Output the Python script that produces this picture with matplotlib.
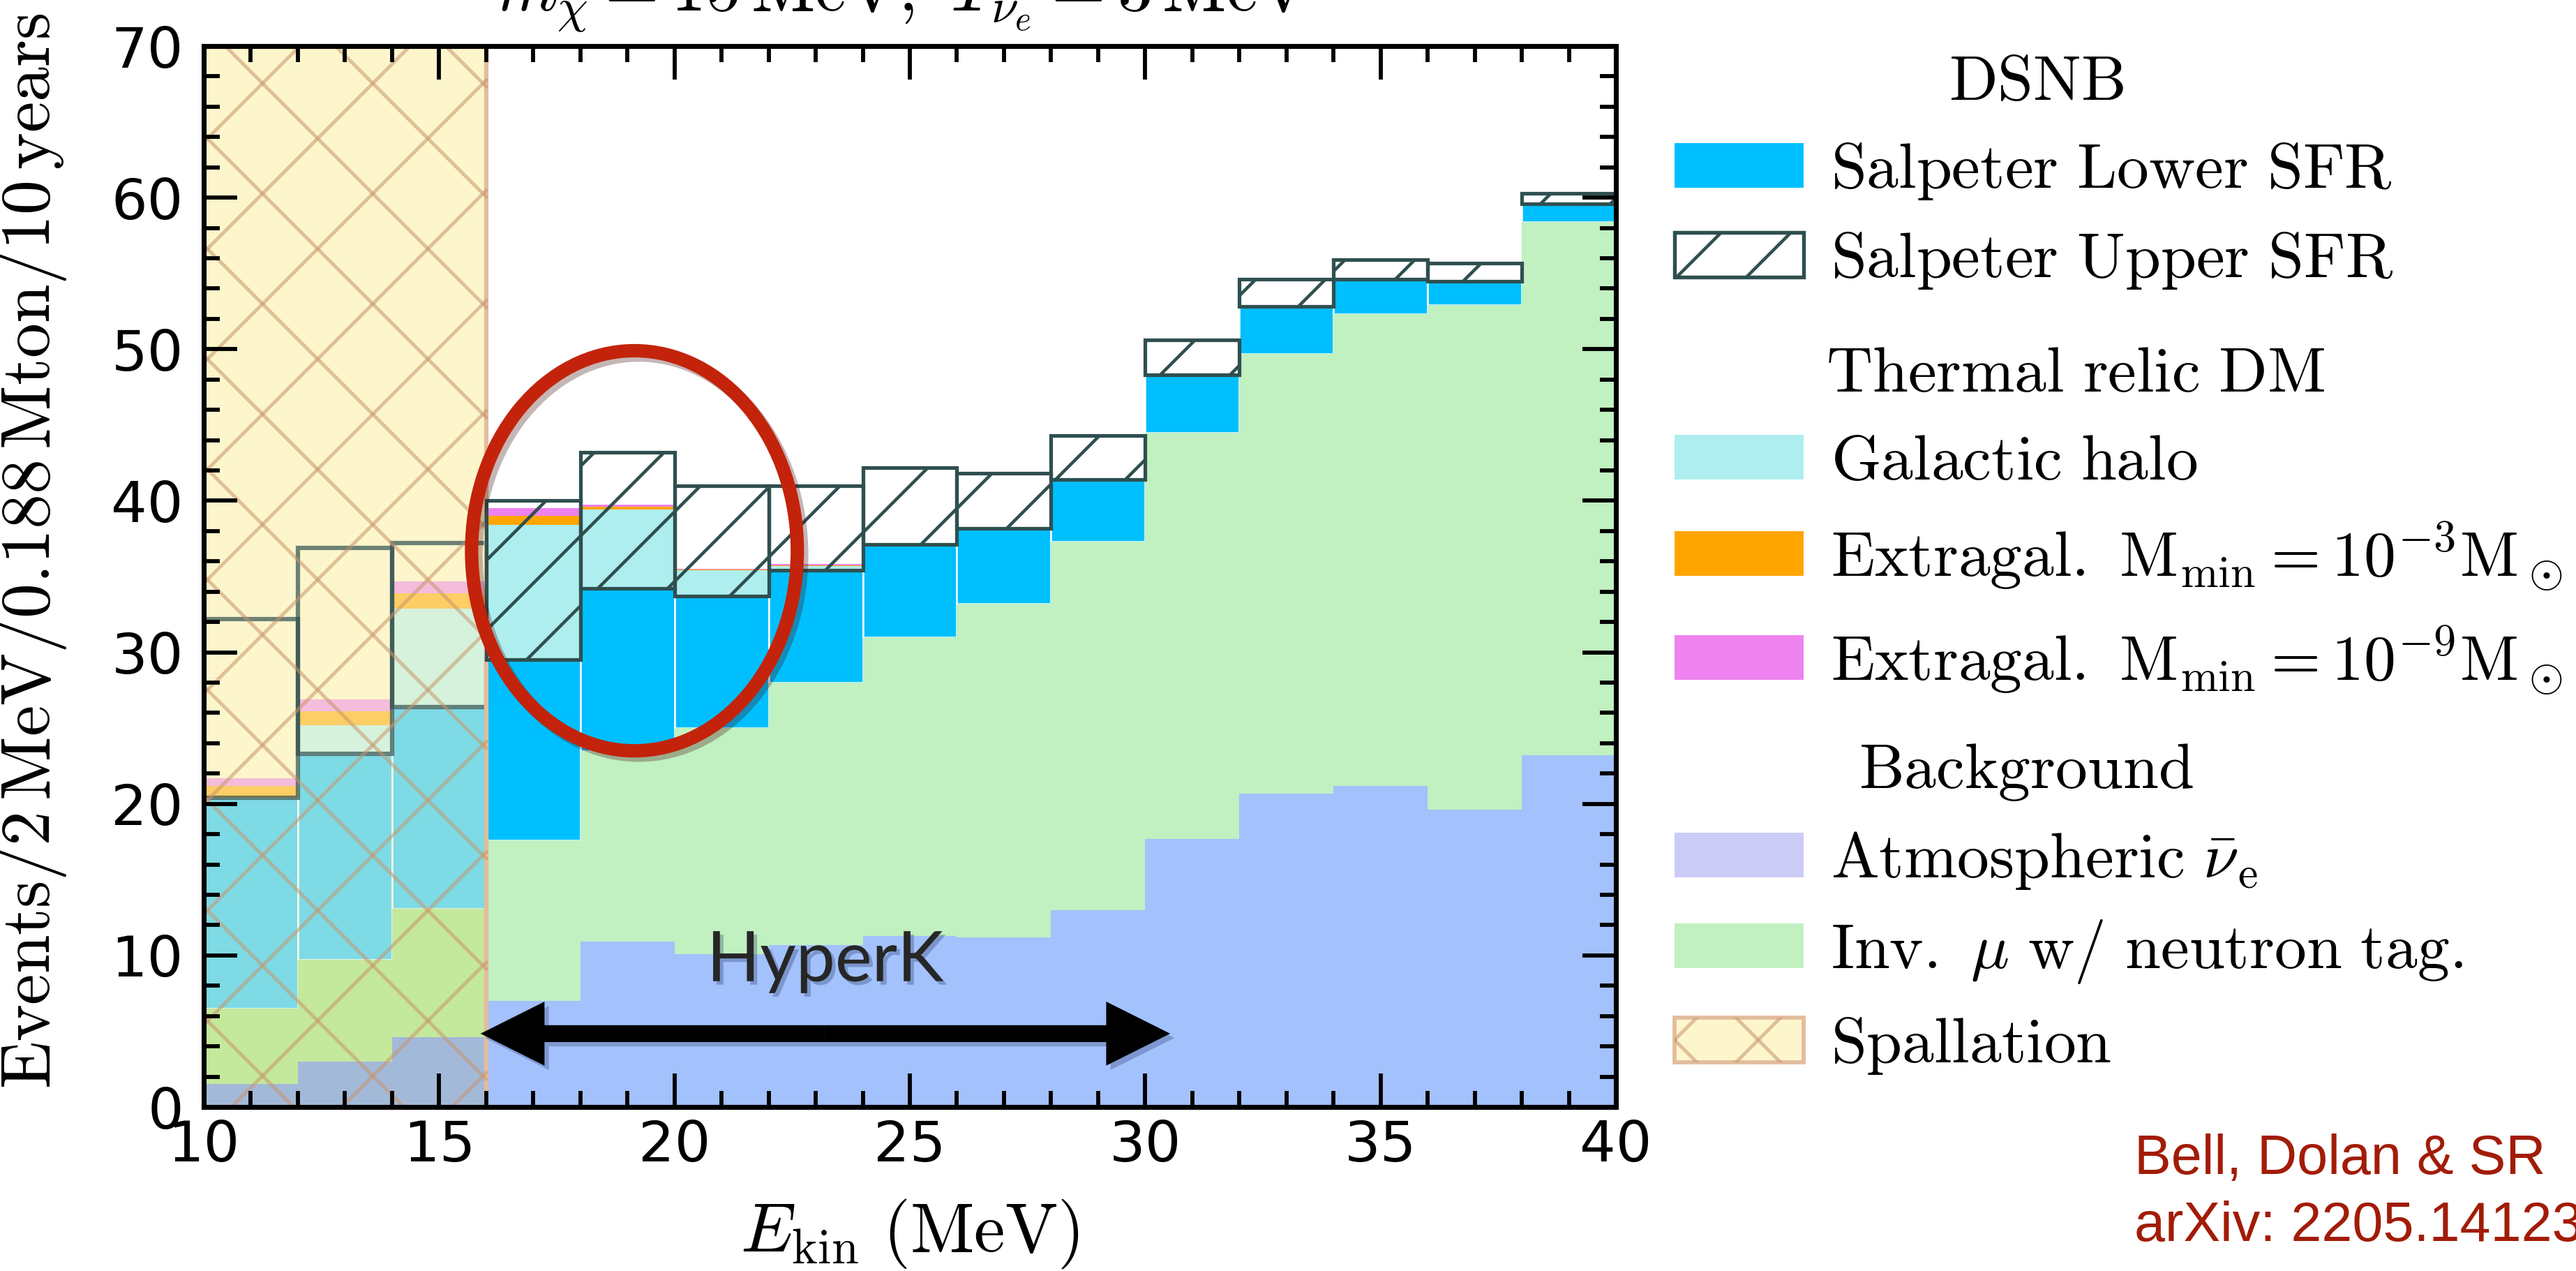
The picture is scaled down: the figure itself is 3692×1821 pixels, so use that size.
import numpy as np
import matplotlib
matplotlib.use("Agg")
import matplotlib.pyplot as plt
import matplotlib.patches as mpatches
import matplotlib.patheffects as pe
from matplotlib.ticker import MultipleLocator

W_PX, H_PX, DPI = 3692, 1821, 300

# 2 MeV bins in kinetic energy
bin_edges = np.arange(10, 42, 2)

# events / 2 MeV / 0.188 Mton / 10 years, per component and bin
atmos = np.array([1.5, 3.0, 4.6, 7.0, 10.9, 10.1, 10.7, 11.3, 11.2, 13.0, 17.7, 20.7, 21.2, 19.6, 23.2])
inv_mu = np.array([5.0, 6.7, 8.5, 10.6, 12.6, 14.9, 17.3, 19.7, 22.0, 24.3, 26.8, 29.0, 31.1, 33.3, 35.2])
salp_lower = np.array([13.9, 13.6, 13.3, 11.9, 10.7, 8.7, 7.4, 6.1, 5.0, 4.1, 3.8, 3.1, 2.3, 1.6, 1.2])
salp_upper = np.array([25.7, 27.2, 24.1, 22.4, 19.7, 16.0, 13.0, 11.2, 8.6, 7.0, 6.1, 4.9, 3.6, 2.8, 1.9])
halo = np.array([0.0, 1.9, 6.5, 8.9, 5.2, 1.7, 0.3, 0, 0, 0, 0, 0, 0, 0, 0])
extragal_3 = np.array([0.8, 0.9, 1.0, 0.6, 0.2, 0.05, 0.05, 0, 0, 0, 0, 0, 0, 0, 0])
extragal_9 = np.array([1.3, 1.7, 1.8, 1.1, 0.35, 0.1, 0.15, 0, 0, 0, 0, 0, 0, 0, 0])

SPALL_CUT = 16.0               # spallation dominates below this energy
HYPERK_RANGE = (15.88, 30.53)  # HyperK analysis window (MeV)

# colours
C_ATM, C_ATM_W, C_ATM_LEG = "#a3c1fc", "#a3b9d8", "#cbcbf8"
C_INV, C_INV_W = "#c1f0c1", "#c4e89c"
C_LOW = "#00bfff"
C_HALO = "#afeeee"
C_EX3 = "#ffa500"
C_EX9 = "#ee82ee"
C_UP = "#2f4f4f"
C_SPALL = "#fdf6cc"
C_SPALL_LINE = "#c8956b"
C_SPALL_EDGE = "#e2bd9e"

plt.rcParams["mathtext.fontset"] = "cm"
plt.rcParams["font.family"] = "DejaVu Sans"
plt.rcParams["hatch.linewidth"] = 1.1
plt.rcParams["hatch.color"] = C_UP

fig = plt.figure(figsize=(W_PX / DPI, H_PX / DPI), dpi=DPI)
ax = fig.add_axes([292 / W_PX, 1 - 1586 / H_PX, (2316 - 292) / W_PX, (1586 - 66) / H_PX])

left = bin_edges[:-1]
width = np.diff(bin_edges)
low = left < SPALL_CUT

# background stack
bkg = atmos + inv_mu
ax.bar(left, atmos, width, align="edge", lw=0, zorder=3.5,
       color=[C_ATM_W if b else C_ATM for b in low])
ax.bar(left, inv_mu, width, bottom=atmos, align="edge", lw=0, zorder=3.5,
       color=[C_INV_W if b else C_INV for b in low])

# DSNB lower SFR on top of background
low_top = bkg + salp_lower
ax.bar(left, salp_lower, width, bottom=bkg, align="edge", color=C_LOW,
       edgecolor="white", lw=0.6, zorder=2)

# dark matter signals on top of the DSNB
ax.bar(left, halo, width, bottom=low_top, align="edge", color=C_HALO, lw=0, zorder=2)
ax.bar(left, extragal_9, width, bottom=low_top + halo, align="edge", color=C_EX9, lw=0, zorder=2)
ax.bar(left, extragal_3, width, bottom=low_top + halo, align="edge", color=C_EX3, lw=0, zorder=2.05)

# upper SFR band, from lower-SFR top to upper-SFR top
up_h = salp_upper - salp_lower
hi = ~low
ax.bar(left[hi], up_h[hi], width[hi], bottom=low_top[hi], align="edge", fill=False,
       hatch="/", edgecolor=C_UP, lw=1.25, zorder=5)
ax.bar(left[low], up_h[low], width[low], bottom=low_top[low], align="edge", fill=False,
       edgecolor=C_UP, alpha=0.7, lw=1.5, zorder=3.6)

# spallation region
ax.axvspan(10, SPALL_CUT, color=C_SPALL, lw=0, zorder=0.5)
ax.axvspan(10, SPALL_CUT, color=C_SPALL, alpha=0.5, lw=0, zorder=3)
ax.axvline(SPALL_CUT, color=C_SPALL_EDGE, lw=1.5, zorder=4)

bb = ax.get_position()
sx = bb.width * W_PX / 30.0   # px per MeV
sy = bb.height * H_PX / 70.0  # px per event
slope = sx / sy
period = 158.0 / sx
node_x, node_y = 12.42, 63.9
xs = np.array([10.0, SPALL_CUT])
for k in range(-20, 30):
    c_up = node_y - slope * node_x + k * period * slope
    c_dn = node_y + slope * node_x + k * period * slope
    ax.plot(xs, slope * xs + c_up, color=C_SPALL_LINE, alpha=0.55, lw=1.2, zorder=4)
    ax.plot(xs, -slope * xs + c_dn, color=C_SPALL_LINE, alpha=0.55, lw=1.2, zorder=4)

# HyperK window
shadow = [pe.SimplePatchShadow(offset=(1.5, -1.5), shadow_rgbFace="#2a3a6a", alpha=0.3), pe.Normal()]
mid = 0.5 * (HYPERK_RANGE[0] + HYPERK_RANGE[1])
for end in HYPERK_RANGE:
    arr = mpatches.FancyArrowPatch(
        (mid, 4.84), (end, 4.84),
        arrowstyle=mpatches.ArrowStyle("simple", head_length=22, head_width=22, tail_width=5.8),
        mutation_scale=1, shrinkA=0, shrinkB=0, color="black", lw=0, zorder=6)
    arr.set_path_effects(shadow)
    ax.add_patch(arr)
ax.text(23.2, 8.3, "HyperK", fontfamily="Lato", fontsize=24, color="#262626",
        ha="center", va="baseline", zorder=6,
        path_effects=[pe.withSimplePatchShadow(offset=(1.2, -1.2), shadow_rgbFace="#203060", alpha=0.3)])

ell = mpatches.Ellipse((19.15, 36.7), 6.92, 26.4, fill=False, edgecolor="#c3230b", lw=4.6, zorder=7)
ell.set_path_effects([pe.SimpleLineShadow(offset=(1.5, -1.5), shadow_color="#401010", alpha=0.3), pe.Normal()])
ax.add_patch(ell)

# axes styling
ax.set_xlim(10, 40)
ax.set_ylim(0, 70)
ax.set_xticks(range(10, 41, 5))
ax.set_yticks(range(0, 71, 10))
ax.xaxis.set_minor_locator(MultipleLocator(1))
ax.yaxis.set_minor_locator(MultipleLocator(2))
ax.tick_params(which="both", direction="in", top=True, right=True, width=1.4, labelsize=19.5)
ax.tick_params(which="major", length=11.5)
ax.tick_params(which="minor", length=5.5)
ax.tick_params(axis="x", pad=4)
ax.tick_params(axis="y", pad=7)
for sp in ax.spines.values():
    sp.set_linewidth(1.7)
    sp.set_zorder(10)
ax.xaxis.set_zorder(10)
ax.yaxis.set_zorder(10)

ax.set_xlabel(r"$E_{\rm kin}\ \mathrm{(MeV)}$", fontsize=24)
ax.set_ylabel(r"$\mathrm{Events/2\,MeV/0.188\,Mton/10\,years}$", fontsize=24)
ax.xaxis.set_label_coords(0.5, -0.085)
ax.yaxis.set_label_coords(-0.096, 0.524)

# overlay in figure pixels for legend and notes
lax = fig.add_axes([0, 0, 1, 1])
lax.set_xlim(0, W_PX)
lax.set_ylim(H_PX, 0)
lax.axis("off")
lax.patch.set_visible(False)

lax.text(1294, 15, r"$m_\chi = 15\,\mathrm{MeV},\ T_{\nu_e} = 3\,\mathrm{MeV}$",
         fontsize=24, ha="center", va="baseline")

PATCH_X, PATCH_W, PATCH_H, TEXT_X = 2400, 185, 64, 2624
LEG_FS = 22

def leg_title(text, x, base):
    lax.text(x, base, text, fontsize=LEG_FS, va="baseline")

def leg_entry(text, base, **kw):
    r = mpatches.Rectangle((PATCH_X, base - PATCH_H), PATCH_W, PATCH_H, **kw)
    lax.add_patch(r)
    lax.text(TEXT_X, base, text, fontsize=LEG_FS, va="baseline")
    return r

leg_title(r"$\mathrm{DSNB}$", 2793, 143)
leg_entry(r"$\mathrm{Salpeter\ Lower\ SFR}$", 269, color=C_LOW, lw=0)
leg_entry(r"$\mathrm{Salpeter\ Upper\ SFR}$", 397, facecolor="white", edgecolor=C_UP,
          hatch="/", lw=1.3)
leg_title(r"$\mathrm{Thermal\ relic\ DM}$", 2617, 561)
leg_entry(r"$\mathrm{Galactic\ halo}$", 687, color=C_HALO, lw=0)
leg_entry(r"$\mathrm{Extragal.\ M_{min}} = 10^{-3}\mathrm{M}_\odot$", 825, color=C_EX3, lw=0)
leg_entry(r"$\mathrm{Extragal.\ M_{min}} = 10^{-9}\mathrm{M}_\odot$", 974, color=C_EX9, lw=0)
leg_title(r"$\mathrm{Background}$", 2664, 1129)
leg_entry(r"$\mathrm{Atmospheric}\ \bar{\nu}_\mathrm{e}$", 1257, color=C_ATM_LEG, lw=0)
leg_entry(r"$\mathrm{Inv.}\ \mu\ \mathrm{w/\ neutron\ tag.}$", 1387, color=C_INV, lw=0)
sp_patch = leg_entry(r"$\mathrm{Spallation}$", 1522, facecolor=C_SPALL, edgecolor=C_SPALL_EDGE, lw=1.4)
for x0 in (PATCH_X - 60, PATCH_X + 60, PATCH_X + 180):
    for sgn in (1, -1):
        ln, = lax.plot([x0, x0 + 120], [1522 - 32 + sgn * 60, 1522 - 32 - sgn * 60],
                       color=C_SPALL_LINE, alpha=0.55, lw=1.2)
        ln.set_clip_path(sp_patch)

lax.text(3059, 1682, "Bell, Dolan & SR", fontfamily="Liberation Sans", fontsize=19,
         color="#a21c07", va="baseline")
lax.text(3059, 1778, "arXiv: 2205.14123", fontfamily="Liberation Sans", fontsize=19,
         color="#a21c07", va="baseline")

fig.savefig("out.png", dpi=DPI)
